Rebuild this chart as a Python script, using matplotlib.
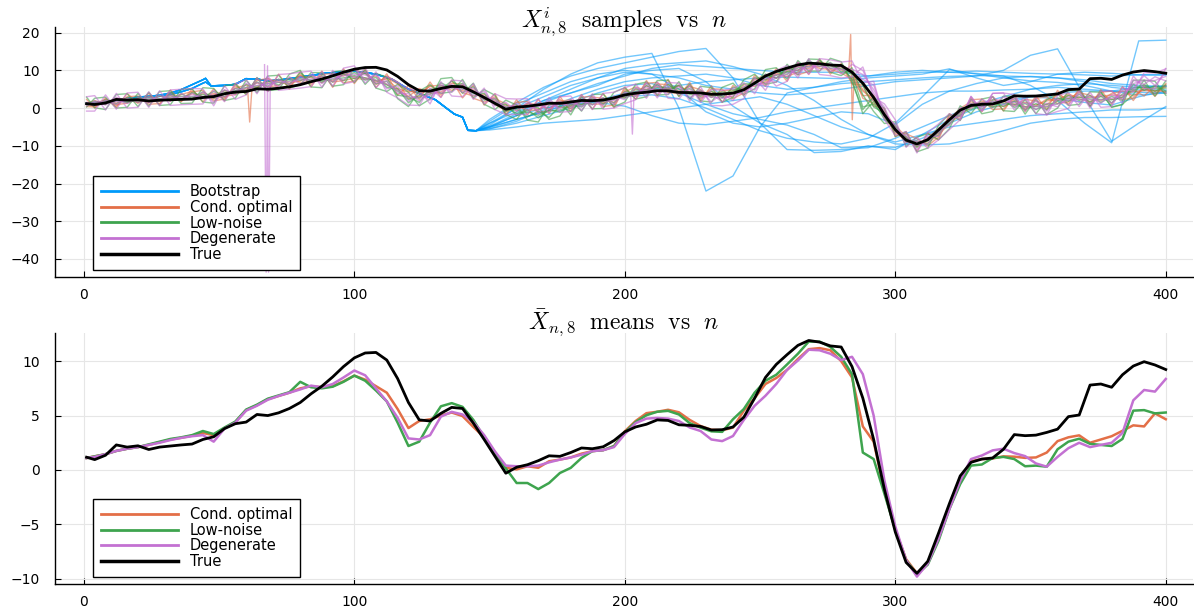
import numpy as np
import matplotlib.pyplot as plt
from matplotlib.lines import Line2D

plt.rcParams['font.family'] = ['DejaVu Sans']
plt.rcParams['mathtext.fontset'] = 'cm'

# time index (every 4th step)
n = np.r_[1, np.arange(4, 401, 4)]

true_x = [1.17, 0.95, 1.35, 2.3, 2.1, 2.22, 1.88, 2.1, 2.2, 2.3,
          2.38, 2.8, 3.05, 3.8, 4.25, 4.4, 5.1, 5.0, 5.25, 5.65,
          6.2, 7.0, 7.7, 8.55, 9.5, 10.3, 10.75, 10.8, 10.1, 8.4,
          6.2, 4.6, 4.5, 5.2, 5.75, 5.65, 4.3, 2.8, 1.25, -0.3,
          0.25, 0.48, 0.85, 1.3, 1.25, 1.6, 2.02, 1.95, 2.13, 2.7,
          3.5, 3.95, 4.2, 4.6, 4.55, 4.15, 4.1, 4.0, 3.67, 3.7,
          3.95, 4.85, 6.6, 8.5, 9.7, 10.6, 11.45, 11.9, 11.75, 11.4,
          11.3, 9.5, 6.6, 2.8, -1.8, -5.7, -8.5, -9.5, -8.4, -5.8,
          -3.1, -0.55, 0.7, 1.0, 1.1, 1.9, 3.25, 3.15, 3.2, 3.45,
          3.75, 4.9, 5.05, 7.8, 7.9, 7.6, 8.75, 9.55, 9.95, 9.65,
          9.23]

cond_mean = [1.1, 1.25, 1.45, 1.75, 1.95, 2.1, 2.3, 2.55, 2.8, 2.95,
             3.15, 3.4, 3.2, 3.85, 4.4, 5.5, 5.95, 6.5, 6.8, 7.1,
             7.5, 7.7, 7.6, 7.7, 8.15, 8.67, 8.3, 7.7, 7.1, 5.6,
             3.85, 4.5, 4.66, 5.0, 5.28, 4.95, 3.95, 3.0, 1.6, 0.2,
             0.05, 0.34, 0.2, 0.8, 0.95, 1.15, 1.5, 1.73, 1.82, 2.19,
             3.55, 4.5, 5.22, 5.35, 5.53, 5.3, 4.6, 4.04, 3.7, 3.65,
             3.89, 5.45, 6.6, 7.9, 8.45, 9.2, 10.2, 11.1, 11.2, 11.0,
             10.0, 8.5, 4.0, 2.6, -2.0, -5.5, -8.2, -9.5, -8.6, -6.3,
             -3.5, -1.0, 0.8, 1.0, 1.05, 1.25, 1.22, 1.11, 1.15, 1.6,
             2.65, 3.0, 3.18, 2.5, 2.8, 3.1, 3.6, 4.1, 4.0, 5.2,
             4.66]

lown_mean = [1.1, 1.25, 1.45, 1.75, 1.95, 2.1, 2.35, 2.6, 2.85, 3.0,
             3.2, 3.58, 3.3, 3.9, 4.45, 5.55, 6.0, 6.55, 6.85, 7.15,
             8.1, 7.6, 7.5, 7.65, 8.1, 8.67, 8.2, 7.3, 6.3, 4.35,
             2.2, 2.6, 4.35, 5.85, 6.14, 5.8, 4.6, 3.0, 1.55, 0.15,
             -1.2, -1.2, -1.76, -1.2, -0.28, 0.19, 1.1, 1.73, 1.82, 2.19,
             3.45, 4.4, 5.03, 5.35, 5.43, 5.1, 4.3, 3.89, 3.55, 3.5,
             4.66, 5.6, 7.1, 8.2, 8.75, 9.7, 10.68, 11.8, 11.8, 11.3,
             10.4, 8.8, 1.6, 1.0, -2.2, -5.5, -8.3, -9.6, -8.7, -6.5,
             -3.6, -1.3, 0.4, 0.5, 1.1, 1.2, 1.0, 0.34, 0.4, 0.3,
             1.9, 2.6, 2.87, 2.4, 2.3, 2.2, 2.85, 5.45, 5.5, 5.2,
             5.28]

degen_mean = [1.1, 1.2, 1.45, 1.75, 1.95, 2.1, 2.3, 2.5, 2.75, 2.95,
              3.1, 3.2, 2.6, 3.8, 4.35, 5.45, 5.9, 6.45, 6.8, 7.1,
              7.4, 7.75, 7.6, 7.9, 8.5, 9.14, 8.7, 7.5, 6.3, 4.8,
              2.9, 2.8, 3.2, 4.9, 5.34, 5.1, 4.4, 3.2, 1.7, 0.4,
              0.34, 0.34, 0.4, 0.7, 0.95, 1.15, 1.4, 1.73, 1.82, 2.1,
              3.3, 4.3, 4.72, 4.78, 4.72, 4.5, 3.9, 3.58, 2.8, 2.65,
              3.12, 4.6, 5.9, 6.82, 7.9, 9.2, 10.06, 11.05, 11.0, 10.68,
              10.1, 10.4, 8.8, 5.0, -1.0, -5.2, -8.3, -9.8, -8.6, -6.3,
              -3.6, -1.0, 1.0, 1.33, 1.8, 1.95, 1.55, 1.27, 0.6, 0.3,
              1.2, 2.0, 2.5, 2.1, 2.3, 2.5, 3.4, 6.4, 7.35, 7.2,
              8.36]

# individual particle samples (top panel)
cond_samples = [
    [1.2, 2.0, 1.0, 2.6, 2.3, 1.4, 3.1, 2.4, 1.9, 3.6,
     4.4, 2.9, 3.9, 2.7, 5.3, 6.1, 5.2, 7.8, 6.9, 6.2,
     8.6, 8.1, 6.7, 8.9, 8.5, 10.2, 9.1, 6.9, 8.0, 6.4,
     4.6, 3.9, 5.8, 6.1, 4.7, 5.9, 4.8, 2.4, 2.5, 1.1,
     -0.8, 1.3, 0.9, -0.2, 1.8, 2.2, 0.8, 2.9, 2.6, 1.5,
     4.3, 5.6, 4.6, 6.4, 6.2, 4.5, 5.7, 4.9, 3.0, 4.6,
     4.8, 5.0, 7.5, 8.8, 7.9, 10.1, 11.0, 10.5, 12.2, 11.6,
     10.8, 9.2, 4.9, 1.8, -1.2, -4.7, -7.5, -10.3, -7.9, -5.4,
     -2.8, -0.1, 1.7, 0.3, 2.2, 1.9, 0.6, 2.3, 1.9, 0.8,
     3.6, 2.4, 4.1, 3.4, 1.9, 3.9, 4.5, 3.2, 5.1, 4.4, 5.6],
    [0.9, 0.5, 1.8, 0.9, 1.3, 2.6, 1.5, 1.9, 3.3, 2.2,
     2.5, 3.9, 2.4, 3.1, 3.6, 4.8, 6.7, 5.6, 6.0, 7.9,
     6.8, 7.0, 8.4, 6.9, 7.3, 7.9, 7.6, 8.5, 6.2, 4.9,
     3.1, 5.2, 3.9, 4.3, 6.0, 4.1, 3.2, 3.7, 0.9, -0.6,
     0.7, -0.5, -0.6, 1.5, 0.2, 0.4, 2.2, 1.0, 1.1, 2.9,
     2.8, 3.7, 5.9, 4.6, 4.8, 6.1, 3.9, 3.3, 4.4, 2.9,
     3.1, 6.2, 5.8, 7.1, 9.2, 8.4, 9.5, 11.8, 10.5, 10.3,
     9.3, 7.7, 3.3, 3.4, -2.7, -6.2, -8.9, -8.8, -9.3, -7.0,
     -4.2, -1.8, 0.1, 1.8, 0.3, 0.5, 2.0, 0.4, 0.5, 2.4,
     1.9, 3.8, 2.4, 1.7, 3.6, 2.3, 2.8, 4.9, 3.2, 5.9, 3.9],
    [1.0, 1.4, 2.1, 1.3, 2.7, 1.8, 2.0, 3.2, 2.5, 2.4,
     3.8, 3.0, 3.5, 4.6, 3.9, 5.3, 5.6, 6.9, 7.5, 6.6,
     7.2, 8.5, 7.9, 7.3, 9.0, 8.3, 8.0, 7.3, 7.6, 5.2,
     4.2, 4.9, 4.2, 5.6, 5.5, 4.6, 4.3, 2.6, 1.9, 0.6,
     0.3, 0.9, -0.3, 1.2, 1.3, 0.7, 1.9, 2.2, 1.4, 2.5,
     3.2, 4.9, 5.0, 5.7, 5.1, 5.8, 4.2, 4.5, 3.4, 3.9,
     4.3, 5.2, 6.9, 7.6, 8.8, 9.6, 10.1, 11.3, 11.0, 11.4,
     10.2, 8.1, 4.5, 2.3, -1.6, -5.9, -8.0, -9.8, -8.3, -6.6,
     -3.2, -1.3, 1.1, 1.4, 0.8, 1.7, 1.0, 1.5, 0.8, 1.9,
     2.4, 3.3, 2.9, 2.8, 3.1, 3.5, 3.3, 4.4, 4.6, 4.7, 4.3],
    [2.3, 0.0, 2.6, 0.2, 3.9, 1.3, 3.9, 0.9, 4.8, 1.7,
     5.0, 1.6, 5.1, 1.9, 6.6, 3.6, 8.0, 4.4, 9.0, 5.0,
     9.7, 5.6, 9.8, 5.5, 10.4, 6.5, 10.3, 5.4, 9.1, 3.4,
     6.0, 2.3, 6.9, 2.9, 7.4, 2.7, 6.0, 0.8, 3.8, -1.9,
     2.2, -1.8, 2.3, -1.4, 3.1, -0.9, 3.6, -0.3, 3.9, 0.1,
     5.6, 2.3, 7.3, 3.2, 7.6, 3.1, 6.8, 1.9, 5.9, 1.5,
     6.0, 3.3, 8.7, 5.8, 10.5, 7.1, 12.2, 9.0, 13.0, 9.0,
     11.8, 6.4, 6.1, 0.5, 0.0, -7.6, -6.3, -11.5, -6.6, -8.4,
     -1.5, -3.1, 2.8, -1.0, 3.1, -0.8, 3.3, -0.9, 3.2, -0.4,
     4.7, 0.9, 5.2, 0.4, 4.9, 1.0, 5.7, 2.0, 6.1, 3.1, 6.5],
    [0.4, 0.3, 2.4, 0.6, 3.0, 3.2, 1.0, 1.2, 4.1, 1.8,
     4.3, 4.7, 1.9, 2.4, 5.9, 4.2, 7.3, 7.9, 5.4, 5.7,
     8.9, 6.3, 8.9, 9.2, 6.7, 7.2, 9.7, 6.3, 8.5, 6.9,
     2.5, 3.1, 6.0, 3.6, 6.6, 6.3, 2.6, 1.6, 3.0, -1.1,
     1.5, 1.8, -1.2, -0.6, 2.3, -0.2, 2.9, 3.1, 0.4, 0.8,
     4.9, 3.1, 6.6, 6.8, 4.1, 3.9, 6.0, 2.6, 5.1, 5.0,
     2.5, 4.0, 8.0, 6.5, 9.8, 10.6, 8.8, 9.7, 12.6, 9.6,
     11.4, 9.9, 2.6, 1.2, -0.6, -6.9, -6.8, -8.1, -10.0, -7.7,
     -2.1, -2.4, 2.2, 2.4, -0.4, -0.2, 2.6, -0.3, 2.6, 3.0,
     1.2, 1.6, 4.6, 1.1, 4.2, 4.5, 2.2, 2.7, 5.4, 3.8, 6.1],
]

lown_samples = [
    [1.3, 0.7, 2.2, 1.1, 2.8, 1.6, 3.0, 1.8, 3.6, 2.2,
     4.1, 2.9, 4.4, 3.0, 5.2, 4.7, 6.9, 5.8, 7.7, 6.3,
     9.4, 6.8, 8.6, 6.9, 9.0, 7.8, 9.3, 6.4, 7.1, 3.4,
     3.0, 1.5, 5.1, 4.9, 7.2, 5.0, 5.6, 2.1, 2.4, -0.8,
     -0.3, -2.3, -0.8, -2.5, 0.6, -0.9, 2.0, 0.9, 2.7, 1.3,
     4.4, 3.6, 6.0, 4.4, 6.3, 4.2, 5.2, 3.1, 4.5, 2.7,
     5.5, 4.8, 8.0, 7.4, 9.7, 8.9, 11.5, 10.9, 12.6, 10.5,
     11.2, 7.6, -1.5, 1.8, -3.0, -4.7, -9.1, -8.8, -9.5, -5.7,
     -4.4, -0.5, -0.4, 1.3, 0.3, 2.0, 0.2, 1.2, -0.4, 1.1,
     1.1, 3.4, 2.0, 3.3, 1.5, 3.1, 2.0, 6.3, 4.7, 6.0, 4.5],
    [0.9, 1.8, 1.0, 2.4, 1.4, 2.8, 1.7, 3.3, 2.2, 3.8,
     2.5, 4.3, 2.6, 4.7, 3.8, 6.3, 5.3, 7.2, 6.1, 7.9,
     7.3, 8.4, 6.8, 8.4, 7.3, 9.5, 7.4, 8.1, 5.5, 5.2,
     1.4, 3.5, 3.6, 6.7, 5.3, 6.6, 3.8, 3.9, 0.8, 1.0,
     -2.0, -0.4, -2.6, -0.4, -1.1, 1.0, 0.3, 2.6, 1.0, 3.0,
     2.6, 5.2, 4.2, 6.2, 4.6, 6.0, 3.5, 4.7, 2.8, 4.3,
     3.9, 6.5, 6.3, 9.0, 7.9, 10.5, 9.9, 12.6, 11.0, 12.1,
     9.6, 9.8, 6.0, 0.3, -1.4, -6.2, -7.6, -10.4, -7.9, -7.3,
     -2.8, -2.1, 1.2, -0.3, 1.9, 0.4, 1.8, -0.5, 1.2, -0.5,
     2.7, 1.8, 3.7, 1.6, 3.1, 1.4, 3.7, 4.6, 6.3, 4.4, 6.1],
    [1.1, 1.2, 1.6, 1.9, 1.6, 2.0, 2.5, 2.4, 2.9, 3.1,
     3.0, 3.6, 3.0, 4.0, 4.6, 5.5, 5.9, 6.5, 6.8, 7.2,
     7.8, 7.5, 7.2, 7.7, 8.0, 8.6, 8.0, 7.3, 6.2, 4.5,
     2.3, 2.8, 4.4, 5.9, 5.9, 5.7, 4.4, 3.1, 1.5, 0.3,
     -1.4, -1.0, -1.9, -0.8, -0.5, 0.5, 1.0, 1.7, 1.8, 2.3,
     3.3, 4.4, 4.9, 5.4, 5.4, 5.1, 4.2, 3.9, 3.4, 3.5,
     4.6, 5.5, 7.0, 8.2, 8.7, 9.7, 10.6, 11.9, 11.8, 11.3,
     10.4, 9.0, 0.3, 1.0, -2.2, -5.6, -8.2, -9.6, -8.7, -6.5,
     -3.6, -1.3, 0.4, 0.5, 1.1, 1.2, 1.0, 0.3, 0.4, 0.3,
     1.9, 2.6, 2.9, 2.4, 2.3, 2.2, 2.9, 5.4, 5.5, 5.2, 5.3],
    [2.9, 0.1, -0.4, 3.6, 3.8, 0.4, 4.2, 0.7, 0.9, 5.0,
     5.1, 1.6, 1.3, 5.9, 6.3, 3.6, 8.1, 4.6, 4.9, 9.0,
     10.0, 5.6, 5.4, 9.6, 10.0, 6.8, 10.2, 5.3, 4.4, 6.3,
     4.2, 0.6, 2.4, 7.8, 8.1, 3.9, 6.6, 1.0, -0.4, 2.1,
     0.8, -3.2, -3.7, 0.8, 1.7, -1.8, 3.1, -0.2, -0.1, 4.2,
     5.4, 2.4, 3.0, 7.3, 7.4, 3.1, 6.3, 1.9, 1.6, 5.5,
     6.6, 3.6, 5.1, 10.2, 10.7, 7.7, 12.6, 9.8, 9.8, 13.2,
     12.3, 6.8, -0.4, 3.0, -0.2, -7.5, -6.3, -11.6, -10.6, -4.5,
     -1.6, -3.3, 2.4, -1.5, -0.9, 3.2, 3.0, -1.6, 2.4, -1.7,
     0.0, 4.6, 4.8, 0.4, 4.3, 0.2, 0.9, 7.4, 7.4, 3.2, 7.2],
    [0.3, 2.6, 2.9, 0.0, 0.2, 3.9, 0.5, 4.4, 4.6, 1.2,
     1.3, 5.4, 5.2, 2.0, 2.6, 7.4, 4.1, 8.5, 8.7, 5.3,
     6.2, 9.4, 9.4, 5.8, 6.2, 10.5, 6.3, 9.2, 8.2, 2.5,
     0.4, 4.5, 6.2, 3.9, 4.3, 7.6, 2.7, 4.9, 3.4, -1.7,
     -3.0, 0.7, 0.1, -3.0, -2.1, 2.1, -0.8, 3.6, 3.7, 0.3,
     1.6, 6.3, 6.9, 3.5, 3.6, 7.0, 2.4, 5.8, 5.4, 1.6,
     2.8, 7.5, 9.0, 6.3, 6.9, 11.6, 8.8, 13.0, 12.9, 9.5,
     8.6, 10.7, 3.5, -0.9, -4.1, -3.6, -10.2, -7.7, -6.8, -8.4,
     -5.5, 0.6, -1.5, 2.4, 3.0, -0.7, -0.9, 2.2, -1.5, 2.2,
     3.8, 0.7, 1.0, 4.3, 4.2, 0.3, 1.0, 3.6, 7.4, 7.1, 3.4],
]

degen_samples = [
    [0.6, 1.9, 0.8, 2.9, 1.2, 2.7, 1.4, 3.4, 1.8, 3.9,
     2.2, 4.3, 1.5, 4.9, 3.4, 6.6, 4.8, 7.7, 5.7, 8.3,
     6.3, 8.9, 6.5, 9.1, 7.4, 10.4, 7.6, 8.8, 5.1, 5.9,
     1.8, 3.9, 2.1, 6.2, 4.2, 6.4, 3.3, 4.4, 0.6, 1.5,
     -0.8, 1.5, -0.7, 1.9, -0.2, 2.3, 0.3, 2.9, 0.7, 3.2,
     2.2, 5.5, 3.6, 5.9, 3.6, 5.7, 2.8, 4.7, 1.6, 3.9,
     2.0, 5.8, 4.8, 8.0, 6.8, 10.4, 9.0, 12.2, 9.9, 11.9,
     9.0, 11.6, 10.0, 3.9, 0.2, -6.3, -7.2, -11.0, -7.5, -7.5,
     -2.5, -2.2, 2.2, 0.2, 3.0, 0.8, 2.7, 0.1, 1.8, -0.8,
     2.4, 0.9, 3.7, 1.0, 3.5, 1.3, 4.6, 5.3, 8.6, 6.0, 9.5],
    [1.5, 0.6, 2.1, 1.0, 2.6, 1.5, 3.0, 1.8, 3.5, 2.1,
     3.9, 2.4, 3.5, 2.9, 5.2, 4.6, 6.8, 5.5, 7.6, 6.2,
     8.3, 6.8, 8.5, 7.0, 9.4, 8.1, 9.6, 6.6, 7.2, 3.9,
     3.8, 1.9, 4.1, 3.9, 6.3, 4.2, 5.3, 2.3, 2.6, -0.5,
     1.2, -0.6, 1.3, -0.3, 1.8, 0.2, 2.4, 0.8, 2.7, 1.1,
     4.2, 3.4, 5.6, 3.8, 5.7, 3.6, 4.9, 2.6, 3.8, 1.6,
     4.1, 3.7, 6.9, 5.9, 8.9, 8.3, 11.0, 10.1, 12.0, 9.7,
     11.1, 9.4, 7.6, 6.1, -2.1, -4.3, -9.2, -8.8, -9.6, -5.3,
     -4.6, 0.1, 0.0, 2.4, 0.8, 3.0, 0.6, 2.3, -0.4, 1.3,
     0.3, 3.0, 1.5, 3.1, 1.3, 3.5, 2.4, 7.4, 6.3, 8.3, 7.2],
    [1.1, 1.3, 1.5, 1.7, 2.0, 2.2, 2.3, 2.4, 2.8, 2.9,
     3.2, 3.1, 2.7, 3.7, 4.4, 5.4, 6.0, 6.4, 6.9, 7.0,
     7.5, 7.7, 7.7, 7.8, 8.6, 9.0, 8.8, 7.4, 6.4, 4.7,
     3.0, 2.7, 3.3, 4.8, 5.4, 5.0, 4.5, 3.1, 1.8, 0.3,
     0.4, 0.3, 0.5, 0.6, 1.0, 1.1, 1.5, 1.7, 1.9, 2.0,
     3.4, 4.2, 4.8, 4.7, 4.8, 4.4, 4.0, 3.5, 2.9, 2.6,
     3.2, 4.5, 6.0, 6.7, 8.0, 9.1, 10.1, 11.0, 11.1, 10.6,
     10.2, 10.3, 8.9, 4.9, -0.9, -5.3, -8.2, -9.9, -8.5, -6.4,
     -3.5, -1.1, 1.1, 1.3, 1.7, 2.0, 1.5, 1.3, 0.5, 0.4,
     1.1, 2.1, 2.4, 2.2, 2.2, 2.6, 3.3, 6.5, 7.3, 7.3, 8.4],
    [3.0, 3.3, -0.5, 3.9, 0.0, 0.2, 4.3, 0.6, 4.8, 5.0,
     5.2, 5.1, 0.6, 5.9, 2.3, 3.5, 8.0, 4.4, 8.9, 9.1,
     9.5, 9.8, 5.5, 10.0, 6.4, 7.0, 10.8, 5.4, 8.4, 6.9,
     5.0, 4.9, 1.1, 7.0, 3.2, 3.0, 6.5, 1.1, 3.8, 2.5,
     2.4, 2.5, -1.7, 2.8, -1.1, -0.9, 3.5, -0.4, 3.9, 4.2,
     5.4, 6.4, 2.6, 6.9, 2.6, 2.4, 6.0, 1.5, 4.9, 4.7,
     5.2, 6.7, 3.8, 8.9, 5.8, 7.1, 12.2, 8.9, 13.1, 12.8,
     12.2, 12.5, 6.7, 7.1, -3.1, -7.3, -6.2, -11.9, -6.5, -4.2,
     -1.5, -3.1, 3.1, -0.8, 3.9, 4.0, 3.6, -0.8, 2.7, -1.8,
     3.3, 4.1, 0.4, 4.2, 0.2, 0.4, 5.5, 4.3, 9.4, 9.3, 10.4],
    [-0.8, -0.8, 3.5, -0.3, 4.0, 4.2, 0.2, 4.6, 0.7, 0.9,
     1.0, 1.1, 4.7, 1.7, 6.4, 7.5, 3.8, 8.5, 4.7, 5.0,
     5.3, 5.7, 9.7, 5.8, 10.6, 11.2, 6.6, 9.6, 4.2, 2.7,
     0.8, 0.7, 5.3, 2.8, 7.4, 7.2, 2.3, 5.3, -0.4, -1.7,
     -1.7, -1.7, 2.5, -1.4, 3.0, 3.2, -0.7, 3.8, -0.3, 0.0,
     1.2, 2.2, 6.8, 2.7, 6.8, 6.6, 1.8, 5.7, 0.7, 0.6,
     1.0, 2.5, 8.0, 4.7, 10.0, 11.3, 8.0, 13.1, 8.9, 8.6,
     8.0, 8.3, 10.9, 2.9, 1.1, -3.1, -10.4, -7.7, -10.7, -8.4,
     -5.7, -3.1, 3.1, -0.8, 3.9, 4.0, -0.5, 3.4, -1.5, -1.8,
     -0.9, -0.1, 4.6, 0.0, 4.4, 4.6, 1.3, 8.5, 5.2, 5.1, 10.5],
]

# isolated outlier excursions of single particles
cond_spikes = [([60.5, 61.3, 62.2], [5.6, -3.7, 5.9]),
               ([282.8, 283.5, 284.1, 284.8], [9.8, 19.5, -3.1, 8.6])]
degen_spikes = [([66.8, 67.4, 67.9, 68.3, 68.9], [11.5, -43.5, 11.2, -43.5, 6.5]),
                ([202.2, 202.8, 203.4], [3.2, -6.9, 3.6])]

# bootstrap particles: collapsed path until n=145, then spread out
boot_early_n = [1, 10, 20, 28, 32, 36, 40, 44, 45, 47, 52, 56, 60, 64, 68, 72,
                80, 90, 100, 108, 114, 120, 125, 130, 134, 137, 140, 142, 145]
boot_early_a = [1.2, 1.9, 2.9, 3.4, 4.0, 4.9, 6.2, 7.5, 7.9, 5.9, 6.0, 6.3, 7.8, 7.7, 7.2, 7.4,
                8.2, 9.3, 9.8, 9.0, 7.6, 5.0, 3.6, 2.2, 0.0, -1.6, -2.4, -5.9, -6.0]
boot_early_b = [1.2, 1.9, 2.9, 3.1, 3.6, 4.3, 5.2, 6.6, 6.9, 5.9, 6.0, 6.3, 7.8, 7.7, 7.2, 7.4,
                8.2, 9.3, 9.8, 9.0, 7.6, 5.0, 3.6, 2.2, 0.0, -1.6, -2.4, -5.9, -6.0]
boot_late_n = np.arange(150, 401, 10)
boot_late = [
    [-4.5, 0, 5, 9, 12, 13.5, 14.5, 0, -22, -18, -5, 4, 5.5, 7, 8, 8.5, 9, 10.4, 8, 6, 7, 9, 8.8, 8.5, 8.8, 8.8],
    [-3, 1.5, 5.5, 8.5, 10.5, 12, 13.5, 15, 15.8, 8, -4, -11, -11.2, -11, -10.5, -8, -5, -2, 1, 3, 5, 6, 6.5, 6, 5.5, 5.8],
    [-4, -1, 2, 4, 6, 9, 10, 10.5, 7, 0.5, -4, -7, -11.8, -11.5, -10, -11, -7, -3, 0, 2, 3, 2.5, 1.5, 0.8, 3, 4.5],
    [-5, -3, -1, 1, 2, 3, 3.5, 2.5, 0, -3, -6, -8, -9, -9.5, -8, -4, 3, 10.2, 9, 8, 7.2, 6.8, 6, 4.5, 3.5, 4.0],
    [-4, 0, 3, 6, 8, 9.5, 9, 8, 6, 5, 4, 3.5, 4, 5, 6, 7, 7.5, 8, 8.5, 10, 14, 15.7, 3, -8.8, -4, 0.4],
    [-5.5, -4, -2, 0, 2, 4, 5, 6, 7, 7.5, 8, 8.2, 8, 7.8, 8.5, 9, 9.5, 9.5, 9.2, 8.5, 6, 2, -4, -9.2, 17.8, 18],
    [-5, -2, 1.5, 4, 6.5, 8.5, 10.5, 11.5, 11, 10.5, 10, 9.5, 9.5, 9.5, 8.5, 9.5, 10, 9.5, 9.8, 9.5, 9.2, 9, 9.5, 9.2, 8.8, 8.8],
    [-5, -2, 0, 1, 1.5, 0.5, -2, -4, -4.4, -3.5, -2.5, -1, 0, 1, 2, 3, 4, 4.5, 4.5, 4.8, 5, 5.5, 5, 4.5, 5.5, 5.8],
    [-5.8, -5, -4, -3.5, -3, -2, -1, 0, 1, 2, 3, 1, -2, -5, -7, -9.5, -9.8, -9.5, -8, -6, -4, -3, -2.5, -2.5, -2.3, -2.2],
    [-4.8, -1.5, 2, 5, 8, 10.5, 11.5, 12, 12.5, 11, 9, 6, 2, -3, -7, -9, -7, -5, -4, -3, -2, -1.5, -1, -0.5, -0.5, 0],
    [-5.5, -3.5, -0.5, 2.5, 5, 7, 8, 8.5, 9, 8, 6, 5, 5.5, 6.5, 7, 7.5, 8, 8.4, 8.6, 8.5, 8.3, 8, 7.5, 6.5, 6, 5.75],
    [-3.5, 1, 4, 7, 9, 10, 9, 5, -1, -4, -5, -4, -2.5, -1, -1.5, -4.4, 1, 4.5, 6.5, 8, 8.4, 8, 7, 5.5, 4.8, 4.8],
    [-5.2, -3, -1, 1.5, 4, 6, 6.5, 4, 1, -1.5, -3, -4.5, -7, -10.5, -10.2, -10.4, -8, -4, -1, 1, 3, 4, 4.5, 4.5, 4.2, 4.0],
]

C_BOOT = '#009afa'
C_COND = '#e36f47'
C_LOWN = '#3ea44e'
C_DEGEN = '#c371d2'

fig = plt.figure(figsize=(11.94, 6.13), dpi=100)
ax1 = fig.add_axes([0.046, 0.548, 0.953, 0.408])
ax2 = fig.add_axes([0.046, 0.047, 0.953, 0.410])


def style(ax, ylim, yticks):
    ax.set_xlim(-10.7, 410)
    ax.set_ylim(*ylim)
    ax.set_xticks([0, 100, 200, 300, 400])
    ax.set_yticks(yticks)
    for s in ['top', 'right']:
        ax.spines[s].set_visible(False)
    for s in ['left', 'bottom']:
        ax.spines[s].set_linewidth(1.0)
    ax.grid(True, color='#e6e6e6', lw=0.8)
    ax.set_axisbelow(True)
    ax.tick_params(direction='in', length=4, width=0.8, labelsize=10)
    ax.tick_params(axis='y', pad=11)
    ax.tick_params(axis='x', pad=8)


def add_legend(ax, handles, labels):
    leg = ax.legend(handles, labels, loc='lower left', bbox_to_anchor=(0.0334, 0.028),
                    borderaxespad=0, fontsize=10.5, fancybox=False, edgecolor='black',
                    framealpha=1, handlelength=5.3, handletextpad=0.8,
                    labelspacing=0.05, borderpad=0.55)
    leg.get_frame().set_linewidth(1.0)


# --- top panel: samples ---
for i, late in enumerate(boot_late):
    early = boot_early_a if i % 2 == 0 else boot_early_b
    ax1.plot(list(boot_early_n) + list(boot_late_n), early + late,
             color=C_BOOT, lw=1.0, alpha=0.55)
for samples, spikes, c in [(cond_samples, cond_spikes, C_COND),
                           (lown_samples, [], C_LOWN),
                           (degen_samples, degen_spikes, C_DEGEN)]:
    for s in samples:
        ax1.plot(n, s, color=c, lw=1.0, alpha=0.6)
    for sn, sv in spikes:
        ax1.plot(sn, sv, color=c, lw=1.0, alpha=0.6)
ax1.plot(n, true_x, color='black', lw=2.0)
style(ax1, (-44.8, 21.5), [-40, -30, -20, -10, 0, 10, 20])
fig.text(0.5225, 0.954, r'$X^{i}_{n,8}\ \ \mathrm{samples}\ \ \mathrm{vs}\ \ n$',
         fontsize=17, ha='center', va='baseline')

h1 = [Line2D([], [], color=C_BOOT, lw=2),
      Line2D([], [], color=C_COND, lw=2),
      Line2D([], [], color=C_LOWN, lw=2),
      Line2D([], [], color=C_DEGEN, lw=2),
      Line2D([], [], color='black', lw=2.5)]
add_legend(ax1, h1, ['Bootstrap', 'Cond. optimal', 'Low-noise', 'Degenerate', 'True'])

# --- bottom panel: means ---
ax2.plot(n, cond_mean, color=C_COND, lw=1.8)
ax2.plot(n, lown_mean, color=C_LOWN, lw=1.8)
ax2.plot(n, degen_mean, color=C_DEGEN, lw=1.8)
ax2.plot(n, true_x, color='black', lw=2.0)
style(ax2, (-10.5, 12.6), [-10, -5, 0, 5, 10])
fig.text(0.5225, 0.4617, r'$\bar{X}_{n,8}\ \ \mathrm{means}\ \ \mathrm{vs}\ \ n$',
         fontsize=17, ha='center', va='baseline')

add_legend(ax2, h1[1:], ['Cond. optimal', 'Low-noise', 'Degenerate', 'True'])

fig.savefig('out.png', dpi=100)
